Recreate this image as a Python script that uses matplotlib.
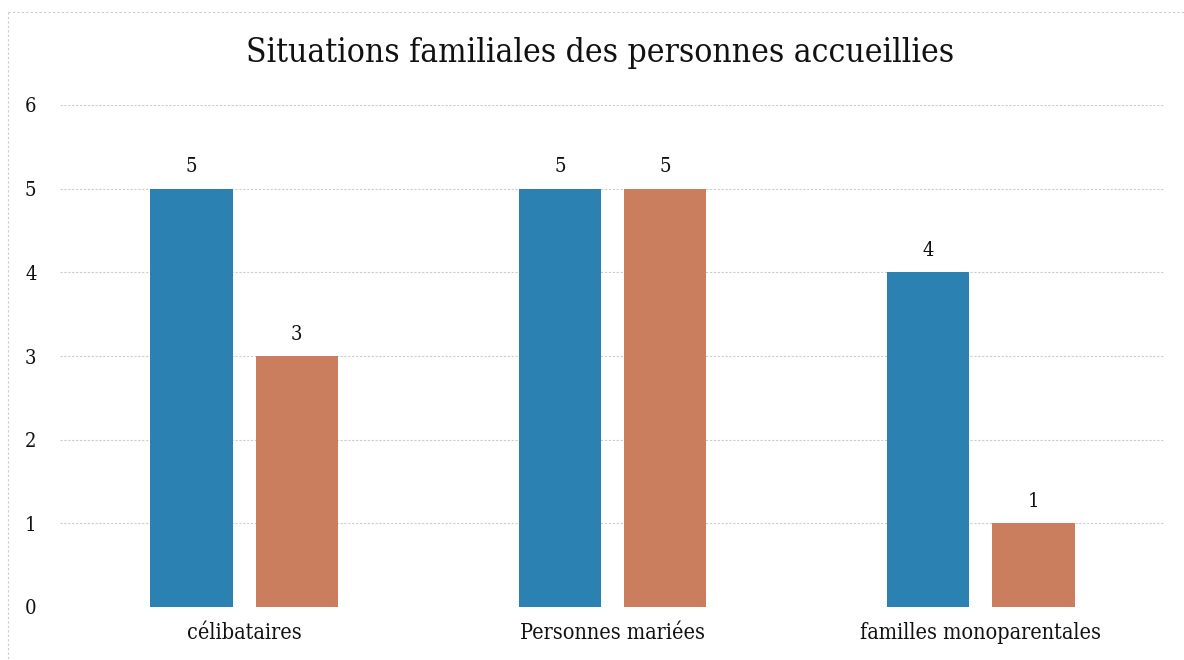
import matplotlib
matplotlib.use("Agg")
import matplotlib.pyplot as plt
import numpy as np
from matplotlib.lines import Line2D

categories = ["célibataires", "Personnes mariées", "familles monoparentales"]
series_a = [5, 5, 4]
series_b = [3, 5, 1]
yticks = [0, 1, 2, 3, 4, 5, 6]
title = "Situations familiales des personnes accueillies"

blue = "#2B82B2"
orange = "#CB7E5D"
font = "DejaVu Serif"
fp = dict(family=font, stretch="condensed")

fig = plt.figure(figsize=(11.84, 6.6), dpi=100)
W, H = 1184, 660
ax = fig.add_axes([60 / W, 1 - 607 / H, 1105 / W, (607 - 105) / H])

x = np.arange(len(categories))
w = 0.223
off = 0.143
ba = ax.bar(x - off, series_a, width=w, color=blue, zorder=3)
bb = ax.bar(x + off, series_b, width=w, color=orange, zorder=3)

for bars, vals in ((ba, series_a), (bb, series_b)):
    for r, v in zip(bars, vals):
        ax.annotate(str(v), (r.get_x() + r.get_width() / 2, v), xytext=(0, 9),
                    textcoords="offset points", ha="center", va="bottom",
                    fontsize=14.5, color="#111111", **fp)

ax.set_xlim(-0.5, len(categories) - 0.5)
ax.set_ylim(0, 6)
ax.set_yticks(yticks)
ax.set_yticklabels([str(t) for t in yticks], fontsize=14.5, color="#111111", **fp)
ax.set_xticks(x)
ax.set_xticklabels(categories, fontsize=15.5, color="#111111", **fp)
ax.tick_params(axis="both", length=0)
ax.tick_params(axis="y", pad=17)
ax.tick_params(axis="x", pad=11)
ax.grid(axis="y", color="#cccccc", linestyle=(0, (2, 1.5)), linewidth=0.8, zorder=0)
for s in ax.spines.values():
    s.set_visible(False)

fig.text(600 / W, 1 - 53 / H, title, ha="center", va="center",
         fontsize=24, color="#111111", **fp)

# dotted outer frame
fig.add_artist(Line2D([8 / W, 8 / W], [1 - 12 / H, 0], transform=fig.transFigure,
                      color="#cccccc", linestyle=(0, (2, 2)), linewidth=0.8))
fig.add_artist(Line2D([8 / W, 1], [1 - 12 / H, 1 - 12 / H], transform=fig.transFigure,
                      color="#cccccc", linestyle=(0, (2, 2)), linewidth=0.8))

fig.savefig("out.png", dpi=100, facecolor="white")
